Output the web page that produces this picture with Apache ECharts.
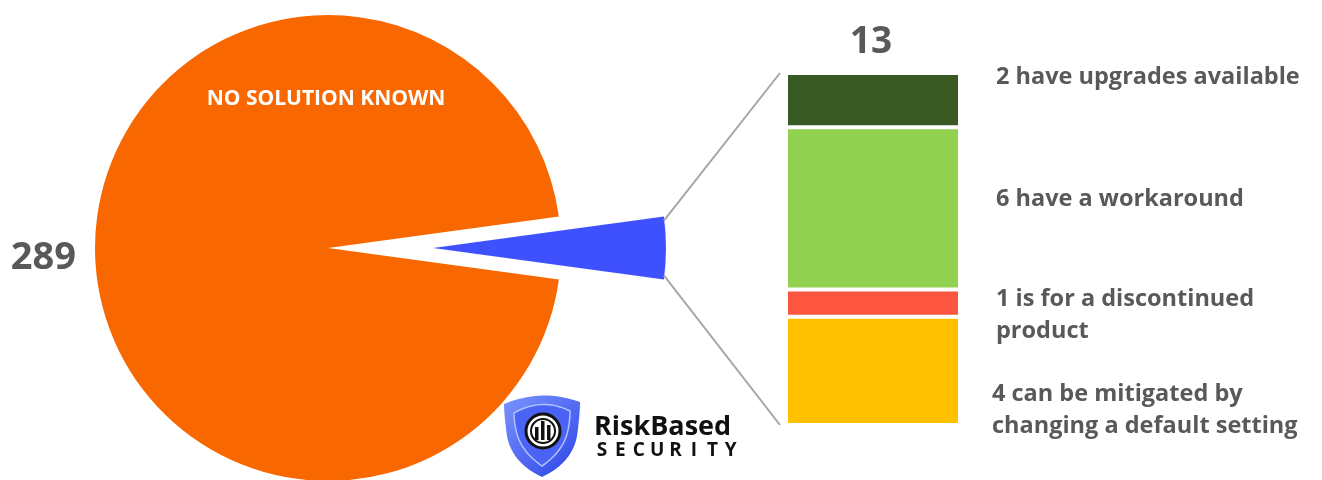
<!DOCTYPE html>
<html>
<head>
<meta charset="utf-8">
<script src="https://cdn.jsdelivr.net/npm/echarts@6/dist/echarts.min.js"></script>
<style>
  html, body { margin: 0; padding: 0; background: #ffffff; }
  #chart { width: 1322px; height: 480px; }
</style>
</head>
<body>
<div id="chart"></div>
<script>
// Pie: vulnerabilities with and without a known solution
const pieNames = ['SOLUTION KNOWN', 'NO SOLUTION KNOWN'];
const pieValues = [13, 289];

// Breakdown of the 13 with a solution (stacked bottom to top)
const barNames = [
  '4 can be mitigated by\nchanging a default setting',
  '1 is for a discontinued\nproduct',
  '6 have a workaround',
  '2 have upgrades available'
];
const barValues = [4, 1, 6, 2];

const pieColors = ['#3f51ff', '#f96700'];
const barColors = ['#ffc000', '#fc5640', '#92d050', '#3a5a24'];
const labelOffsets = [[-4, 39], [0, 12], [0, -9], [0, -23]];

const textColor = '#595959';
const fontFamily = '"Open Sans", "Noto Sans", sans-serif';

const pieCenter = [328, 248];
const pieRadius = 233;
const explode = 105;
const pieTotal = pieValues.reduce((a, b) => a + b, 0);
const barTotal = barValues.reduce((a, b) => a + b, 0);
const halfAngle = pieValues[0] / pieTotal * 360 / 2;

const chart = echarts.init(document.getElementById('chart'), null, { renderer: 'canvas' });

const barSeries = barValues.map((v, i) => ({
  type: 'bar',
  stack: 'solutions',
  name: barNames[i],
  data: [v],
  barWidth: '100%',
  xAxisIndex: 0,
  yAxisIndex: 0,
  silent: true,
  itemStyle: { color: barColors[i], borderColor: '#ffffff', borderWidth: 2 },
  label: {
    show: true,
    position: 'right',
    distance: 36,
    offset: labelOffsets[i],
    formatter: barNames[i],
    color: textColor,
    fontFamily: fontFamily,
    fontWeight: 'bold',
    fontSize: 23.5,
    lineHeight: 32,
    align: 'left'
  }
}));

chart.setOption({
  animation: false,
  backgroundColor: '#ffffff',
  grid: { left: 786, top: 73, width: 174, height: 352 },
  xAxis: { type: 'category', data: ['13'], show: false },
  yAxis: { type: 'value', min: 0, max: barTotal, show: false },
  series: [
    {
      type: 'pie',
      center: pieCenter,
      radius: pieRadius,
      startAngle: halfAngle,
      clockwise: true,
      selectedMode: 'single',
      selectedOffset: explode,
      silent: true,
      label: { show: false },
      labelLine: { show: false },
      emphasis: { disabled: true },
      data: pieValues.map((v, i) => ({
        name: pieNames[i],
        value: v,
        selected: i === 0,
        itemStyle: { color: pieColors[i] }
      }))
    },
    ...barSeries
  ]
});

// Connector lines from the exploded slice to the stacked bar, plus text and logo
const rad = halfAngle * Math.PI / 180;
const apexX = pieCenter[0] + explode;
const cornerX = apexX + pieRadius * Math.cos(rad);
const cornerTopY = pieCenter[1] - pieRadius * Math.sin(rad);
const cornerBotY = pieCenter[1] + pieRadius * Math.sin(rad);

const barTop = chart.convertToPixel({ gridIndex: 0 }, [0, barTotal]);
const barBottom = chart.convertToPixel({ gridIndex: 0 }, [0, 0]);
const barLeft = barTop[0] - 87 - 6;

const securityLetters = 'SECURITY'.split('');

// Shield outline built from quadratic curves: [start, control, end] segments
function quadPoints(segments, steps) {
  const pts = [];
  segments.forEach(([p0, c, p1]) => {
    for (let k = 0; k < steps; k++) {
      const t = k / steps;
      const a = (1 - t) * (1 - t), b = 2 * (1 - t) * t, d = t * t;
      pts.push([a * p0[0] + b * c[0] + d * p1[0], a * p0[1] + b * c[1] + d * p1[1]]);
    }
  });
  return pts;
}
function shield(l, t, r, bottom, shoulder) {
  const cx = (l + r) / 2;
  return quadPoints([
    [[l, t + 10], [cx, t - 6], [r, t + 8]],
    [[r, t + 8], [r, t + 20], [r - 3, shoulder]],
    [[r - 3, shoulder], [r - 8, bottom - 14], [cx, bottom]],
    [[cx, bottom], [l + 8, bottom - 14], [l + 3, shoulder]],
    [[l + 3, shoulder], [l, t + 20], [l, t + 10]]
  ], 12);
}

const shieldGradient = {
  type: 'linear', x: 0, y: 0, x2: 1, y2: 1,
  colorStops: [
    { offset: 0, color: '#7a95ff' },
    { offset: 1, color: '#2c42e6' }
  ]
};

const graphics = [
  {
    type: 'line',
    shape: { x1: cornerX, y1: cornerTopY + 4, x2: barLeft, y2: barTop[1] },
    style: { stroke: '#a6a6a6', lineWidth: 2 }
  },
  {
    type: 'line',
    shape: { x1: cornerX, y1: cornerBotY - 4, x2: barLeft, y2: barBottom[1] },
    style: { stroke: '#a6a6a6', lineWidth: 2 }
  },
  {
    type: 'text',
    x: barTop[0] - 2, y: barTop[1] - 31,
    style: {
      text: String(barTotal), fill: textColor, font: 'bold 37px ' + fontFamily,
      align: 'center', verticalAlign: 'middle'
    }
  },
  {
    type: 'text',
    x: 76, y: 258,
    style: {
      text: String(pieValues[1]), fill: textColor, font: 'bold 38px ' + fontFamily,
      align: 'right', verticalAlign: 'middle'
    }
  },
  {
    type: 'text',
    x: 326, y: 99,
    style: {
      text: pieNames[1], fill: '#ffffff', font: 'bold 21px ' + fontFamily,
      align: 'center', verticalAlign: 'middle'
    }
  },
  // Logo: shield
  {
    type: 'polygon',
    shape: { points: shield(504, 394, 580, 477, 436) },
    style: { fill: shieldGradient }
  },
  {
    type: 'polygon',
    shape: { points: shield(514, 403, 570, 466, 434) },
    style: { fill: '#4a63f4', stroke: '#b3c2ff', lineWidth: 1.5 }
  },
  {
    type: 'circle',
    shape: { cx: 543, cy: 431, r: 17 },
    style: { fill: '#ffffff', stroke: '#111111', lineWidth: 3 }
  },
  {
    type: 'circle',
    shape: { cx: 543, cy: 431, r: 12 },
    style: { fill: '#ffffff', stroke: '#111111', lineWidth: 2 }
  },
  { type: 'rect', shape: { x: 535, y: 427, width: 3.5, height: 13 }, style: { fill: '#111111' } },
  { type: 'rect', shape: { x: 541, y: 421, width: 3.5, height: 19 }, style: { fill: '#111111' } },
  { type: 'rect', shape: { x: 547, y: 425, width: 3.5, height: 15 }, style: { fill: '#111111' } },
  // Logo: wordmark
  {
    type: 'text',
    x: 594, y: 427,
    style: {
      text: 'RiskBased', fill: '#111111', font: 'bold 27px ' + fontFamily,
      align: 'left', verticalAlign: 'middle'
    }
  },
  ...securityLetters.map((ch, i) => ({
    type: 'text',
    x: 602 + i * 18.4, y: 451,
    style: {
      text: ch, fill: '#111111', font: 'bold 19px ' + fontFamily,
      align: 'center', verticalAlign: 'middle'
    }
  }))
].map(g => Object.assign({ silent: true, z: 100 }, g));

chart.setOption({ graphic: graphics });
</script>
</body>
</html>
